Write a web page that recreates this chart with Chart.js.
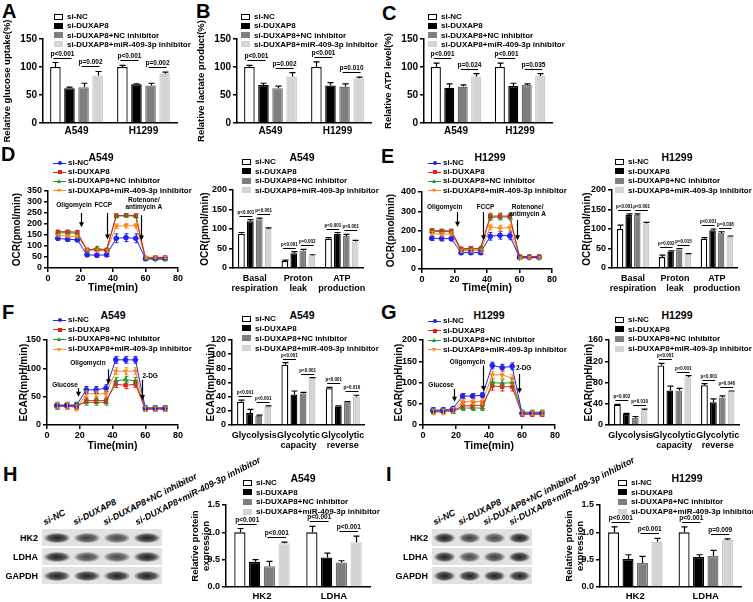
<!DOCTYPE html>
<html>
<head>
<meta charset="utf-8">
<script src="https://cdn.jsdelivr.net/npm/chart.js@4.4.1/dist/chart.umd.min.js"></script>
<style>
  body { margin: 0; background: #fff; }
  #fig { position: relative; width: 753px; height: 602px; overflow: hidden; background: #fff;
         font-family: 'Liberation Sans', Arial, sans-serif; font-weight: bold; color: #000; }
  #fig canvas { position: absolute; }
  #fig div { position: absolute; }
</style>
</head>
<body>
<div id="fig"></div>
<script>
// ---- data ----
var groups = ['si-NC', 'si-DUXAP8', 'si-DUXAP8+NC inhibitor', 'si-DUXAP8+miR-409-3p inhibitor'];
var cellLines = ['A549', 'H1299'];
var ocrCats = [['Basal', 'respiration'], ['Proton', 'leak'], ['ATP', 'production']];
var ecarCats = ['Glycolysis', ['Glycolytic', 'capacity'], ['Glycolytic', 'reverse']];
var proteins = ['HK2', 'LDHA'];
var blotRows = ['HK2', 'LDHA', 'GAPDH'];
var timeMin = [6, 12, 18, 24, 30, 36, 42, 48, 54, 60, 66, 72];

// A glucose uptake (per group: A549, H1299)
var glucoseMean = [[100, 100], [62, 69], [64, 67], [85, 88]];
var glucoseErr = [[8, 3], [2, 1], [7, 4], [7, 3]];
var glucoseP = [['p<0.001', 'p=0.002'], ['p<0.001', 'p=0.002']];
// B lactate
var lactateMean = [[100, 100], [68, 67], [62, 65], [83, 80]];
var lactateErr = [[3, 9], [3, 5], [4, 5], [7, 2]];
var lactateP = [['p<0.001', 'p=0.002'], ['p<0.001', 'p=0.010']];
// C ATP
var atpMean = [[100, 100], [63, 66], [65, 68], [83, 84]];
var atpErr = [[7, 7], [7, 5], [3, 2], [5, 4]];
var atpP = [['p<0.001', 'p=0.024'], ['p<0.001', 'p=0.035']];

// D OCR A549 time course
var ocrA549 = [
  [135, 130, 128, 60, 58, 60, 135, 138, 135, 42, 42, 42],
  [165, 165, 163, 82, 83, 82, 238, 240, 238, 45, 48, 48],
  [160, 160, 158, 80, 90, 82, 235, 238, 235, 42, 40, 40],
  [148, 145, 143, 85, 80, 78, 190, 192, 192, 48, 50, 48]];
var ocrA549Err = [
  [8, 8, 8, 8, 8, 8, 20, 18, 20, 6, 6, 6],
  [5, 6, 6, 6, 6, 6, 8, 8, 8, 5, 5, 5],
  [6, 6, 6, 8, 8, 8, 8, 8, 8, 5, 5, 5],
  [6, 6, 6, 6, 6, 6, 10, 10, 10, 5, 5, 5]];
var ocrBarA549 = [[88, 18, 75], [120, 38, 88], [125, 45, 82], [100, 32, 68]];
var ocrBarA549Err = [[3, 2, 3], [4, 4, 3], [3, 3, 4], [3, 2, 3]];
var ocrBarA549P = [['p<0.001', 'p<0.001'], ['p<0.001', 'p=0.002'], ['p<0.001', 'p<0.001']];

// E OCR H1299
var ocrH1299 = [
  [160, 158, 158, 85, 85, 85, 170, 175, 172, 60, 60, 60],
  [200, 198, 198, 105, 108, 102, 275, 275, 275, 65, 65, 65],
  [195, 195, 195, 100, 100, 110, 268, 270, 270, 60, 62, 62],
  [185, 180, 182, 95, 95, 95, 218, 212, 215, 55, 58, 58]];
var ocrH1299Err = [
  [12, 12, 12, 10, 10, 10, 20, 20, 20, 6, 6, 6],
  [10, 8, 8, 8, 8, 8, 15, 15, 15, 6, 6, 6],
  [8, 8, 8, 8, 8, 8, 15, 15, 15, 6, 6, 6],
  [10, 10, 10, 8, 8, 8, 15, 15, 15, 6, 6, 6]];
var ocrBarH1299 = [[100, 28, 75], [136, 42, 97], [136, 48, 90], [114, 35, 80]];
var ocrBarH1299Err = [[10, 5, 3], [3, 2, 3], [3, 2, 3], [3, 2, 2]];
var ocrBarH1299P = [['p<0.001', 'p<0.001'], ['p=0.002', 'p=0.015'], ['p<0.001', 'p=0.038']];

// F ECAR A549
var ecarA549 = [
  [35, 35, 35, 62, 62, 65, 115, 115, 115, 30, 30, 30],
  [33, 33, 32, 43, 43, 43, 72, 70, 72, 28, 28, 28],
  [33, 34, 35, 40, 40, 40, 78, 80, 78, 30, 30, 30],
  [35, 35, 30, 55, 55, 55, 95, 95, 95, 28, 28, 28]];
var ecarA549Err = [
  [5, 5, 5, 6, 6, 6, 6, 6, 6, 4, 4, 4],
  [5, 5, 5, 5, 5, 5, 6, 6, 6, 4, 4, 4],
  [5, 5, 5, 5, 5, 5, 6, 6, 6, 4, 4, 4],
  [5, 5, 5, 5, 5, 5, 6, 6, 6, 4, 4, 4]];
var ecarBarA549 = [[33, 85, 52], [17, 43, 26], [13, 45, 32], [26, 66, 40]];
var ecarBarA549Err = [[2, 3, 1], [5, 5, 1], [1, 1, 1], [1, 1, 2]];
var ecarBarA549P = [['p<0.001', 'p<0.001'], ['p<0.001', 'p<0.001'], ['p<0.001', 'p=0.016']];

// G ECAR H1299
var ecarH1299 = [
  [35, 35, 38, 68, 68, 70, 140, 135, 138, 28, 28, 28],
  [32, 33, 33, 45, 45, 47, 92, 90, 90, 25, 25, 25],
  [33, 33, 33, 40, 40, 40, 100, 98, 100, 30, 30, 30],
  [30, 30, 35, 55, 55, 55, 118, 118, 110, 28, 28, 28]];
var ecarH1299Err = [
  [6, 6, 6, 6, 6, 6, 8, 8, 8, 5, 5, 5],
  [6, 6, 6, 8, 8, 8, 10, 10, 10, 5, 5, 5],
  [6, 6, 6, 6, 6, 6, 8, 8, 8, 5, 5, 5],
  [6, 6, 6, 6, 6, 6, 8, 8, 8, 5, 5, 5]];
var ecarBarH1299 = [[38, 112, 75], [21, 65, 43], [13, 65, 52], [28, 90, 63]];
var ecarBarH1299Err = [[1, 4, 3], [1, 8, 6], [3, 4, 3], [2, 3, 1]];
var ecarBarH1299P = [['p=0.002', 'p=0.010'], ['p<0.001', 'p<0.001'], ['p<0.001', 'p=0.046']];

// H / I protein expression
var proteinA549 = [[1.0, 1.0], [0.46, 0.54], [0.38, 0.45], [0.80, 0.82]];
var proteinA549Err = [[0.07, 0.11], [0.04, 0.08], [0.09, 0.03], [0.02, 0.11]];
var proteinA549P = [['p<0.001', 'p<0.001'], ['p<0.001', 'p<0.001']];
var proteinH1299 = [[1.0, 1.0], [0.51, 0.55], [0.44, 0.57], [0.83, 0.86]];
var proteinH1299Err = [[0.1, 0.1], [0.08, 0.04], [0.12, 0.1], [0.06, 0.02]];
var proteinH1299P = [['p<0.001', 'p<0.001'], ['p<0.001', 'p=0.009']];

// ---- styles ----
var barFill = ['#ffffff', '#000000', '#7f7f7f', '#d4d4d4'];
var barEdge = ['#000000', '#000000', '#6f6f6f', '#c8c8c8'];
var lineColor = ['#2424ee', '#ee1c1c', '#1e9e2e', '#ff8a1e'];
var pointStyles = ['circle', 'rect', 'triangle', 'triangle'];
var FONT = "'Liberation Sans', Arial, sans-serif";
Chart.defaults.font.family = FONT;
Chart.defaults.font.weight = 'bold';
Chart.defaults.color = '#000';

var fig = document.getElementById('fig');

function mkCanvas(left, top, w, h) {
  var cv = document.createElement('canvas');
  cv.width = w; cv.height = h;
  cv.style.left = left + 'px'; cv.style.top = top + 'px';
  cv.style.width = w + 'px'; cv.style.height = h + 'px';
  fig.appendChild(cv);
  return cv;
}

// mode: 'c' centred, 'l' left-middle, 'r' right-middle, otherwise top-left
function txt(s, x, y, size, mode, extra) {
  var d = document.createElement('div');
  d.textContent = s;
  var tf = '';
  if (mode === 'c') tf = 'transform:translate(-50%,-50%);';
  else if (mode === 'l') tf = 'transform:translateY(-50%);';
  else if (mode === 'r') tf = 'transform:translate(-100%,-50%);';
  d.style.cssText = 'white-space:nowrap;line-height:1;font-size:' + size + 'px;left:' + x + 'px;top:' + y + 'px;' + tf + (extra || '');
  fig.appendChild(d);
  return d;
}

// error bars for bars (upper only) and lines (both ways)
var errPlugin = {
  id: 'errbars',
  afterDatasetsDraw: function(chart) {
    var ctx = chart.ctx, ys = chart.scales.y, isBar = chart.config.type === 'bar';
    ctx.save();
    chart.data.datasets.forEach(function(ds, i) {
      var meta = chart.getDatasetMeta(i);
      meta.data.forEach(function(el, j) {
        var v = isBar ? ds.data[j] : ds.data[j].y;
        var e = ds.err[j];
        var x = Math.round(el.x) + 0.5;
        var y1 = ys.getPixelForValue(v + e);
        var y2 = isBar ? el.y : ys.getPixelForValue(v - e);
        var cap = isBar ? 3 : 2;
        ctx.strokeStyle = isBar ? '#000' : ds.borderColor;
        ctx.lineWidth = isBar ? 1.2 : 1;
        ctx.beginPath();
        ctx.moveTo(x, y1); ctx.lineTo(x, y2);
        ctx.moveTo(x - cap, y1); ctx.lineTo(x + cap, y1);
        if (!isBar) { ctx.moveTo(x - cap, y2); ctx.lineTo(x + cap, y2); }
        ctx.stroke();
      });
    });
    ctx.restore();
  }
};

// p-value brackets: pair (0,1) and pair (2,3) in each category
function pPlugin(list, size, gap) {
  return {
    id: 'pvals',
    afterDatasetsDraw: function(chart) {
      var ctx = chart.ctx, ys = chart.scales.y, ds = chart.data.datasets;
      ctx.save();
      ctx.strokeStyle = '#000'; ctx.fillStyle = '#000'; ctx.lineWidth = 1;
      ctx.font = 'bold ' + size + 'px ' + FONT;
      ctx.textAlign = 'center'; ctx.textBaseline = 'bottom';
      list.forEach(function(pair, j) {
        pair.forEach(function(t, k) {
          var a = k * 2, b = a + 1;
          var top = Math.max(ds[a].data[j] + ds[a].err[j], ds[b].data[j] + ds[b].err[j]);
          var py = Math.round(ys.getPixelForValue(top) - gap) + 0.5;
          var xa = chart.getDatasetMeta(a).data[j].x, xb = chart.getDatasetMeta(b).data[j].x;
          ctx.beginPath(); ctx.moveTo(xa - 2, py); ctx.lineTo(xb + 2, py); ctx.stroke();
          ctx.fillText(t, (xa + xb) / 2, py - 1);
        });
      });
      ctx.restore();
    }
  };
}

// drug injection arrows on the time courses
function notePlugin(notes, size) {
  return {
    id: 'notes',
    afterDatasetsDraw: function(chart) {
      var ctx = chart.ctx, xs = chart.scales.x, ys = chart.scales.y;
      ctx.save();
      ctx.fillStyle = '#000'; ctx.strokeStyle = '#000'; ctx.lineWidth = 1.2;
      ctx.font = 'bold ' + size + 'px ' + FONT;
      ctx.textAlign = 'center'; ctx.textBaseline = 'middle';
      notes.forEach(function(n) {
        var ax = Math.round(xs.getPixelForValue(n.at)) + 0.5;
        var a1 = ys.getPixelForValue(n.from), a2 = ys.getPixelForValue(n.to);
        ctx.beginPath(); ctx.moveTo(ax, a1); ctx.lineTo(ax, a2 - 3); ctx.stroke();
        ctx.beginPath(); ctx.moveTo(ax - 2.5, a2 - 5); ctx.lineTo(ax, a2); ctx.lineTo(ax + 2.5, a2 - 5); ctx.closePath(); ctx.fill();
        n.text.forEach(function(t, k) {
          ctx.fillText(t, xs.getPixelForValue(n.tx), ys.getPixelForValue(n.ty) + k * (size + 1));
        });
      });
      ctx.restore();
    }
  };
}

function barChart(o) {
  var cv = mkCanvas(o.L - o.yw, o.T - o.padT, o.R + o.padR - (o.L - o.yw), o.B + o.xh - (o.T - o.padT));
  var ds = groups.map(function(g, i) {
    return { label: g, data: o.mean[i], err: o.err[i], backgroundColor: barFill[i], borderColor: barEdge[i],
             borderWidth: 1.3, borderSkipped: 'start', barPercentage: o.bp || 0.76, categoryPercentage: o.cp || 0.82 };
  });
  return new Chart(cv, {
    type: 'bar',
    data: { labels: o.cats, datasets: ds },
    options: {
      responsive: false, animation: false, devicePixelRatio: 1,
      layout: { padding: { top: o.padT, right: o.padR, left: 0, bottom: 0 } },
      plugins: { legend: { display: false }, tooltip: { enabled: false } },
      scales: {
        x: { grid: { display: false, drawTicks: false }, border: { color: '#000', width: 1.5 },
             ticks: { color: '#000', font: { size: o.cf, weight: 'bold', lineHeight: 1.15 }, padding: o.cpad, maxRotation: 0, autoSkip: false },
             afterFit: function(s) { s.height = o.xh; } },
        y: { min: 0, max: o.max, border: { color: '#000', width: 1.5 },
             grid: { drawOnChartArea: false, color: '#000', lineWidth: 1.5, tickLength: 4 },
             ticks: { stepSize: o.step, autoSkip: false, color: '#000', font: { size: o.tf, weight: 'bold' }, padding: 2,
                      callback: o.fmt || function(v) { return v; } },
             title: { display: true, text: o.title, color: '#000', font: { size: o.yf, weight: 'bold', lineHeight: 1.15 }, padding: { top: o.tpad || 0, bottom: 0 } },
             afterFit: function(s) { s.width = o.yw; } }
      }
    },
    plugins: [errPlugin, pPlugin(o.p, o.pf, o.pgap)]
  });
}

function lineChart(o) {
  var cv = mkCanvas(o.L - o.yw, o.T - o.padT, o.R + o.padR - (o.L - o.yw), o.B + o.xh - (o.T - o.padT));
  var ds = groups.map(function(g, i) {
    return { label: g, data: timeMin.map(function(t, k) { return { x: t, y: o.vals[i][k] }; }), err: o.err[i],
             borderColor: lineColor[i], backgroundColor: lineColor[i], borderWidth: 1,
             pointStyle: pointStyles[i], pointRotation: i === 3 ? 180 : 0, pointRadius: 2.4, tension: 0 };
  });
  return new Chart(cv, {
    type: 'line',
    data: { datasets: ds },
    options: {
      responsive: false, animation: false, devicePixelRatio: 1,
      layout: { padding: { top: o.padT, right: o.padR, left: 0, bottom: 0 } },
      plugins: { legend: { display: false }, tooltip: { enabled: false } },
      scales: {
        x: { type: 'linear', min: 0, max: 80, border: { color: '#000', width: 1.5 },
             grid: { drawOnChartArea: false, color: '#000', lineWidth: 1.5, tickLength: 4 },
             ticks: { stepSize: 20, color: '#000', font: { size: 9, weight: 'bold' }, padding: 1 },
             title: { display: true, text: 'Time(min)', color: '#000', font: { size: 10.5, weight: 'bold' }, padding: { top: 0, bottom: o.xtpad } },
             afterFit: function(s) { s.height = o.xh; } },
        y: { min: 0, max: o.max, border: { color: '#000', width: 1.5 },
             grid: { drawOnChartArea: false, color: '#000', lineWidth: 1.5, tickLength: 4 },
             ticks: { stepSize: o.step, autoSkip: false, color: '#000', font: { size: 9, weight: 'bold' }, padding: 2 },
             title: { display: true, text: o.title, color: '#000', font: { size: 10, weight: 'bold' }, padding: { top: o.tpad || 0, bottom: 0 } },
             afterFit: function(s) { s.width = o.yw; } }
      }
    },
    plugins: [errPlugin, notePlugin(o.notes, 6.5)]
  });
}

function barLegend(x, y, dy, size) {
  groups.forEach(function(g, i) {
    var yc = y + i * dy;
    var sw = document.createElement('div');
    sw.style.cssText = 'left:' + x + 'px;top:' + (yc - 3.5) + 'px;width:7px;height:4px;border:1.5px solid #000;background:' + barFill[i] + ';';
    if (i > 1) sw.style.borderColor = barFill[i];
    fig.appendChild(sw);
    txt(g, x + 13, yc, size, 'l');
  });
}

function lineLegend(x, y, dy, size) {
  groups.forEach(function(g, i) {
    var yc = y + i * dy;
    var ln = document.createElement('div');
    ln.style.cssText = 'left:' + x + 'px;top:' + (yc - 0.5) + 'px;width:13px;height:1px;background:' + lineColor[i] + ';';
    fig.appendChild(ln);
    var m = document.createElement('div');
    var c = lineColor[i];
    if (i === 0) m.style.cssText = 'left:' + (x + 4.5) + 'px;top:' + (yc - 2) + 'px;width:4px;height:4px;border-radius:50%;background:' + c;
    else if (i === 1) m.style.cssText = 'left:' + (x + 4.5) + 'px;top:' + (yc - 2) + 'px;width:4px;height:4px;background:' + c;
    else if (i === 2) m.style.cssText = 'left:' + (x + 4) + 'px;top:' + (yc - 2.5) + 'px;width:0;height:0;border-left:2.5px solid transparent;border-right:2.5px solid transparent;border-bottom:4px solid ' + c;
    else m.style.cssText = 'left:' + (x + 4) + 'px;top:' + (yc - 1.5) + 'px;width:0;height:0;border-left:2.5px solid transparent;border-right:2.5px solid transparent;border-top:4px solid ' + c;
    fig.appendChild(m);
    txt(g, x + 15, yc, size, 'l');
  });
}

function blot(x, y, w, rowH, gap, dark) {
  blotRows.forEach(function(name, r) {
    var top = y + r * (rowH + gap);
    txt(name, x - 4, top + rowH / 2, 9, 'r');
    var row = document.createElement('div');
    row.style.cssText = 'left:' + x + 'px;top:' + top + 'px;width:' + w + 'px;height:' + rowH + 'px;background:#e2e2e2;';
    fig.appendChild(row);
    for (var k = 0; k < 4; k++) {
      var b = document.createElement('div');
      var lw = w / 4;
      b.style.cssText = 'left:' + (x + k * lw + 2) + 'px;top:' + (top + rowH / 2 - 5) + 'px;width:' + (lw - 4) + 'px;height:10px;' +
        'background:radial-gradient(ellipse at center, rgba(20,20,20,' + dark[r][k] + ') 0%, rgba(40,40,40,' + (dark[r][k] * 0.8) + ') 45%, rgba(0,0,0,0) 75%);';
      fig.appendChild(b);
    }
  });
}

function laneLabels(xs, yb) {
  groups.forEach(function(g, i) {
    txt(g, xs[i], yb - 9, 9, null, 'font-style:italic;transform-origin:0 100%;transform:rotate(-27deg);');
  });
}

function ext(a, b) { var r = {}, k; for (k in a) r[k] = a[k]; for (k in b) r[k] = b[k]; return r; }

// ---------- Row 1: A B C ----------
txt('A', 2, 1, 20);
txt('B', 196, 1, 20);
txt('C', 382, 3, 20);
var row1 = { T: 39, B: 123, yw: 43, xh: 22, padT: 34, padR: 4, max: 150, step: 50, tf: 10, cf: 10, cpad: 2, yf: 9.5, pf: 6.5, pgap: 5, cats: cellLines, cp: 0.84, bp: 0.75 };
barChart(ext(row1, { L: 43, R: 177, mean: glucoseMean, err: glucoseErr, p: glucoseP, title: 'Relative glucose uptake(%)', tpad: 2 }));
barChart(ext(row1, { L: 237, R: 371, mean: lactateMean, err: lactateErr, p: lactateP, title: 'Relative lactate product(%)', tpad: 2 }));
barChart(ext(row1, { L: 424, R: 552, mean: atpMean, err: atpErr, p: atpP, title: 'Relative ATP level(%)', tpad: 2 }));
barLegend(54, 17, 9.3, 8);
barLegend(241, 17, 9.3, 8);
barLegend(428, 17, 9.3, 8);

// ---------- Row 2: D E ----------
txt('D', 1, 144, 20);
txt('E', 381, 146, 20);
txt('A549', 101, 157, 10.5, 'c');
txt('A549', 302, 157, 10.5, 'c');
txt('H1299', 490, 157, 10.5, 'c');
txt('H1299', 677, 157, 10.5, 'c');
lineChart({ L: 48, T: 191, R: 178, B: 268, yw: 40, xh: 32, padT: 51, padR: 8, xtpad: 6, max: 350, step: 50,
  title: 'OCR(pmol/min)', tpad: 3, vals: ocrA549, err: ocrA549Err,
  notes: [
    { at: 20, from: 250, to: 185, tx: 16, ty: 286, text: ['Oligomycin'] },
    { at: 36, from: 250, to: 130, tx: 34, ty: 286, text: ['FCCP'] },
    { at: 57, from: 240, to: 125, tx: 59, ty: 309, text: ['Rotenone/', 'antimycin A'] }] });
lineLegend(53, 163, 9.2, 8);
var row2bar = { T: 190, B: 268, xh: 32, padT: 50, padR: 4, max: 200, step: 50, tf: 9, cf: 9, cpad: 5, yf: 10, pf: 4.5, pgap: 4, cats: ocrCats, title: 'OCR(pmol/min)' };
barChart(ext(row2bar, { L: 233, R: 367, yw: 37, tpad: 3, mean: ocrBarA549, err: ocrBarA549Err, p: ocrBarA549P }));
barLegend(242, 162, 9.5, 8);
lineChart({ L: 422, T: 192, R: 552, B: 269, yw: 42, xh: 31, padT: 52, padR: 8, xtpad: 6, max: 400, step: 100,
  title: 'OCR(pmol/min)', tpad: 5, vals: ocrH1299, err: ocrH1299Err,
  notes: [
    { at: 21.5, from: 296, to: 220, tx: 14, ty: 322, text: ['Oligomycin'] },
    { at: 37.5, from: 296, to: 150, tx: 39, ty: 322, text: ['FCCP'] },
    { at: 58.5, from: 255, to: 150, tx: 65, ty: 322, text: ['Rotenone/', 'antimycin A'] }] });
lineLegend(428, 163, 9.2, 8);
barChart(ext(row2bar, { L: 612, R: 742, yw: 34, tpad: 3, mean: ocrBarH1299, err: ocrBarH1299Err, p: ocrBarH1299P }));
barLegend(615, 162, 9.5, 8);

// ---------- Row 3: F G ----------
txt('F', 2, 302, 20);
txt('G', 381, 302, 20);
txt('A549', 113, 315, 10.5, 'c');
txt('A549', 302, 315, 10.5, 'c');
txt('H1299', 489, 315, 10.5, 'c');
txt('H1299', 677, 315, 10.5, 'c');
lineChart({ L: 47, T: 340, R: 178, B: 425, yw: 30, xh: 33, padT: 45, padR: 8, xtpad: 6, max: 150, step: 50,
  title: 'ECAR(mpH/min)', tpad: 1, vals: ecarA549, err: ecarA549Err,
  notes: [
    { at: 19, from: 65, to: 50, tx: 11, ty: 70, text: ['Glucose'] },
    { at: 37, from: 98, to: 72, tx: 25, ty: 109, text: ['Oligomycin'] },
    { at: 58, from: 80, to: 44, tx: 63, ty: 86, text: ['2-DG'] }] });
lineLegend(53, 320, 9.7, 8);
var row3bar = { T: 340, B: 425, xh: 33, padT: 45, padR: 4, tf: 9, cf: 9, cpad: 5, yf: 10, pf: 4.5, pgap: 4, cats: ecarCats, title: 'ECAR(mpH/min)' };
barChart(ext(row3bar, { L: 232, R: 366, yw: 28, max: 120, step: 20, tpad: 1, mean: ecarBarA549, err: ecarBarA549Err, p: ecarBarA549P }));
barLegend(242, 319, 9.9, 8);
lineChart({ L: 423, T: 340, R: 555, B: 425, yw: 31, xh: 33, padT: 45, padR: 8, xtpad: 6, max: 200, step: 50,
  title: 'ECAR(mpH/min)', tpad: 1, vals: ecarH1299, err: ecarH1299Err,
  notes: [
    { at: 19, from: 85, to: 55, tx: 11, ty: 94, text: ['Glucose'] },
    { at: 36.5, from: 140, to: 80, tx: 27, ty: 148, text: ['Oligomycin'] },
    { at: 58, from: 120, to: 75, tx: 61, ty: 134, text: ['2-DG'] }] });
lineLegend(428, 321, 9.5, 8);
barChart(ext(row3bar, { L: 609, R: 741, yw: 27, max: 160, step: 40, tpad: 1, mean: ecarBarH1299, err: ecarBarH1299Err, p: ecarBarH1299P }));
barLegend(615, 320, 9.7, 8);

// ---------- Row 4: H I ----------
txt('H', 3, 464, 20);
txt('I', 386, 464, 20);
laneLabels([46, 76, 106, 138], 527);
blot(42, 529, 120, 17, 2, [[0.95, 0.8, 0.75, 0.95], [0.95, 0.75, 0.75, 0.95], [0.95, 0.95, 0.95, 0.95]]);
laneLabels([436, 461, 486, 512], 527);
blot(432, 529, 100, 17, 2, [[0.95, 0.8, 0.75, 0.95], [0.95, 0.75, 0.8, 0.95], [0.95, 0.95, 0.95, 0.95]]);
txt('A549', 303, 478, 10.5, 'c');
txt('H1299', 687, 478, 10.5, 'c');
var row4 = { T: 505, B: 587, xh: 15, padT: 35, padR: 4, max: 1.5, step: 0.5, tf: 9, cf: 9.5, cpad: 4, yf: 9.5, pf: 6.5, pgap: 5, cats: proteins,
  title: ['Relative protein', 'expression'], fmt: function(v) { return v.toFixed(1); } };
barChart(ext(row4, { L: 226, R: 370, yw: 36, mean: proteinA549, err: proteinA549Err, p: proteinA549P }));
barLegend(243, 483, 9.7, 8);
barChart(ext(row4, { L: 600, R: 741, yw: 36, mean: proteinH1299, err: proteinH1299Err, p: proteinH1299P }));
barLegend(618, 483, 9.7, 8);
</script>
</body>
</html>
